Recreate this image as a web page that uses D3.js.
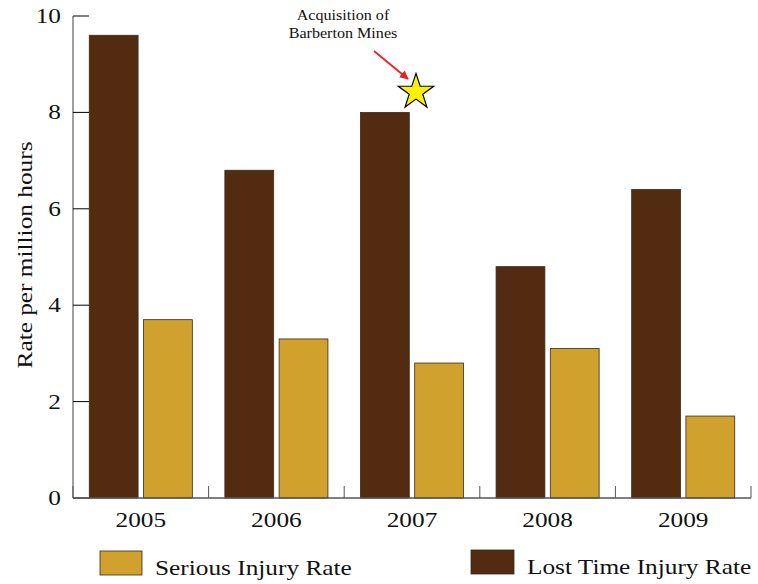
<!DOCTYPE html>
<html><head><meta charset="utf-8">
<script src="https://cdn.jsdelivr.net/npm/d3@7"></script>
<style>body{margin:0;background:#fff}</style>
</head><body>
<svg id="c" width="758" height="584"></svg>
<script>
const years = ["2005","2006","2007","2008","2009"];
const lostTime = [9.6, 6.8, 8.0, 4.8, 6.4];
const serious = [3.7, 3.3, 2.8, 3.1, 1.7];
const yTicks = [0, 2, 4, 6, 8, 10];
const seriesNames = ["Serious Injury Rate", "Lost Time Injury Rate"];
const colors = {lost: "#532b11", serious: "#d1a12e"};
const font = "'Liberation Serif', 'DejaVu Serif', serif";
const stretch = 1.15;

const svg = d3.select("#c");
const x0 = 73, x1 = 751, y0 = 498, y1 = 16;
const x = d3.scaleBand().domain(years).range([x0, x1]).paddingInner(0).paddingOuter(0);
const y = d3.scaleLinear().domain([0, 10]).range([y0, y1]);
const inner = d3.scaleBand().domain(["lost","serious"]).range([0, x.bandwidth()]).paddingInner(0.1).paddingOuter(0.3);

function widen(sel) {
  sel.each(function() {
    const w = this.getComputedTextLength();
    d3.select(this).attr("textLength", w * stretch).attr("lengthAdjust", "spacingAndGlyphs");
  });
  return sel;
}

// bars
years.forEach((yr, i) => {
  [["lost", lostTime[i]], ["serious", serious[i]]].forEach(([k, v]) => {
    svg.append("rect")
      .attr("x", x(yr) + inner(k)).attr("y", y(v))
      .attr("width", inner.bandwidth()).attr("height", y(0) - y(v))
      .attr("fill", colors[k]).attr("stroke", "#3a2a1a").attr("stroke-width", 0.8);
  });
});

// y axis
svg.append("line").attr("x1", x0).attr("x2", x0).attr("y1", y(10)).attr("y2", y0)
  .attr("stroke", "#808080").attr("stroke-width", 1.5);
yTicks.forEach(t => {
  svg.append("line").attr("x1", x0).attr("x2", x0 + 16).attr("y1", y(t)).attr("y2", y(t))
    .attr("stroke", "#000").attr("stroke-width", 1);
  widen(svg.append("text").attr("x", 61).attr("y", y(t) + 7).attr("text-anchor", "end")
    .attr("font-family", font).attr("font-size", 22).attr("fill", "#111").text(t));
});
// x axis
svg.append("line").attr("x1", x0).attr("x2", x1).attr("y1", y0).attr("y2", y0)
  .attr("stroke", "#555").attr("stroke-width", 1.5);
[x0].concat(years.map(d => x(d) + x.bandwidth())).forEach(px => {
  svg.append("line").attr("x1", px).attr("x2", px).attr("y1", y0).attr("y2", y0 - 12)
    .attr("stroke", "#555").attr("stroke-width", 1);
});
years.forEach(yr => {
  widen(svg.append("text").attr("x", x(yr) + x.bandwidth()/2).attr("y", 527).attr("text-anchor", "middle")
    .attr("font-family", font).attr("font-size", 22).attr("fill", "#111").text(yr));
});
// y label
widen(svg.append("text").attr("transform", "translate(32,255) rotate(-90)").attr("text-anchor", "middle")
  .attr("font-family", font).attr("font-size", 22).attr("fill", "#111").text("Rate per million hours"));

// legend
svg.append("rect").attr("x", 100).attr("y", 551).attr("width", 42).attr("height", 24)
  .attr("fill", colors.serious).attr("stroke", "#3a2a1a").attr("stroke-width", 0.8);
widen(svg.append("text").attr("x", 155).attr("y", 575).attr("font-family", font).attr("font-size", 22)
  .attr("fill", "#111").text(seriesNames[0]));
svg.append("rect").attr("x", 471).attr("y", 550).attr("width", 43).attr("height", 24)
  .attr("fill", colors.lost).attr("stroke", "#3a2a1a").attr("stroke-width", 0.8);
widen(svg.append("text").attr("x", 527).attr("y", 574).attr("font-family", font).attr("font-size", 22)
  .attr("fill", "#111").text(seriesNames[1]));

// annotation
const ann = svg.append("text").attr("text-anchor", "middle").attr("font-family", font)
  .attr("font-size", 14).attr("fill", "#111");
widen(ann.append("tspan").attr("x", 343).attr("y", 20).text("Acquisition of"));
widen(ann.append("tspan").attr("x", 343).attr("y", 38).text("Barberton Mines"));

svg.append("defs").append("marker").attr("id", "ah").attr("viewBox", "0 0 10 10")
  .attr("refX", 9).attr("refY", 5).attr("markerWidth", 5).attr("markerHeight", 5)
  .attr("orient", "auto").append("path").attr("d", "M0,0L10,5L0,10z").attr("fill", "#e8202a");
svg.append("line").attr("x1", 374).attr("y1", 51).attr("x2", 408).attr("y2", 79)
  .attr("stroke", "#e8202a").attr("stroke-width", 1.8).attr("marker-end", "url(#ah)");

const star = d3.symbol().type(d3.symbolStar).size(390);
svg.append("path").attr("d", star()).attr("transform", "translate(416,92)")
  .attr("fill", "#fff200").attr("stroke", "#000").attr("stroke-width", 1.2);
</script>
</body></html>
